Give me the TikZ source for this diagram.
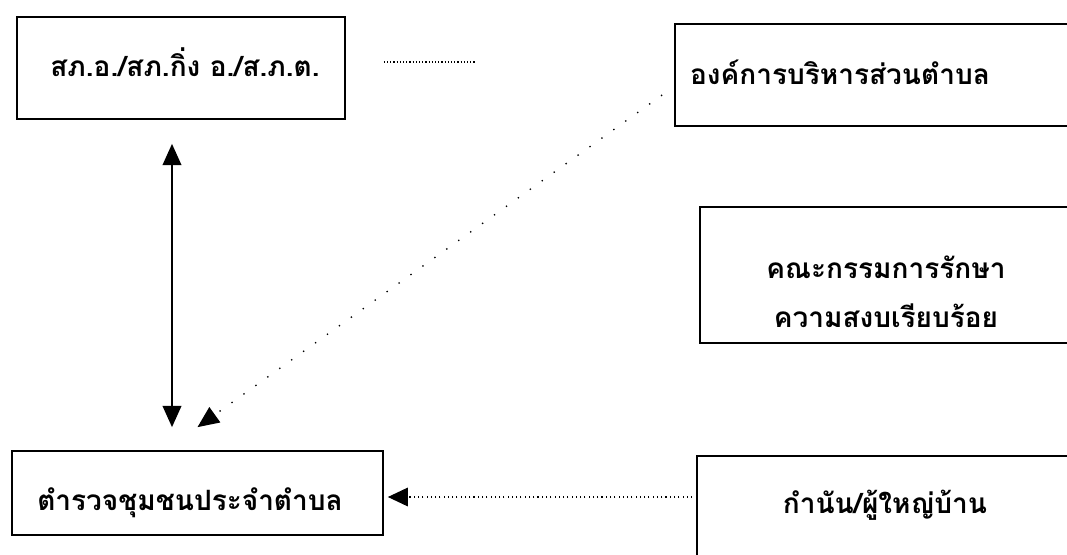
\documentclass[tikz,border=0pt]{standalone}
\usepackage{fontspec}
\usetikzlibrary{arrows.meta,calc}
\newfontfamily\thaifont[Script=Thai]{Loma}
\begin{document}
\begin{tikzpicture}[x=0.75pt,y=-0.75pt,
  boxn/.style={draw=black,line width=1.3pt,minimum width=#1,inner sep=0pt,rectangle},
  lbl/.style={font=\thaifont\bfseries\fontsize{21pt}{36.75pt}\selectfont,align=center,inner sep=0pt},
  solidarr/.style={line width=1.5pt,{Triangle[length=16pt,width=14pt]}-{Triangle[length=16pt,width=14pt]}},
  dotarr/.style={line width=0.8pt,dash pattern=on 0.8pt off 2.4pt,-{Triangle[length=15pt,width=14pt]}},
  diagarr/.style={line width=1pt,dash pattern=on 1pt off 10pt,-{Triangle[length=16pt,width=14pt]}},
  dotline/.style={line width=0.8pt,dash pattern=on 0.8pt off 1.6pt}]
\useasboundingbox[fill=white] (0,0) rectangle (1067,554);
\clip (0,0) rectangle (1067,554);
% boxes
\node[boxn=246pt,minimum height=76.5pt] (a) at (181,68) {};
\node[boxn=318.75pt,minimum height=76.5pt] (b) at (887.5,75) {};
\node[boxn=300pt,minimum height=102pt] (c) at (900,275) {};
\node[boxn=278.25pt,minimum height=63pt] (d) at (197.5,493) {};
\node[boxn=302.25pt,minimum height=108pt] (e) at (898.5,528) {};
% labels
\node[lbl] (ta) at (185,62) {สภ.อ./สภ.กิ่ง อ./ส.ภ.ต.};
\node[lbl] (tb) at (840,72) {องค์การบริหารส่วนตำบล};
\node[lbl] (tc) at (886,292) {คณะกรรมการรักษา\\ความสงบเรียบร้อย};
\node[lbl] (td) at (190,503) {ตำรวจชุมชนประจำตำบล};
\node[lbl] (te) at (885,505) {กำนัน/ผู้ใหญ่บ้าน};
% connectors
\draw[dotline] ($(a.east)+(38,-6)$) -- ($(a.east)+(130,-6)$);
\draw[solidarr] ($(a.south)+(-9,24)$) -- ($(d.north)+(-25.5,-23)$);
\draw[diagarr] ($(b.west)+(-12,20)$) -- ($(d.north)+(0,-23)$);
\draw[dotarr] ($(e.west)+(-4,-31)$) -- ($(d.east)+(4,4)$);
\end{tikzpicture}
\end{document}
